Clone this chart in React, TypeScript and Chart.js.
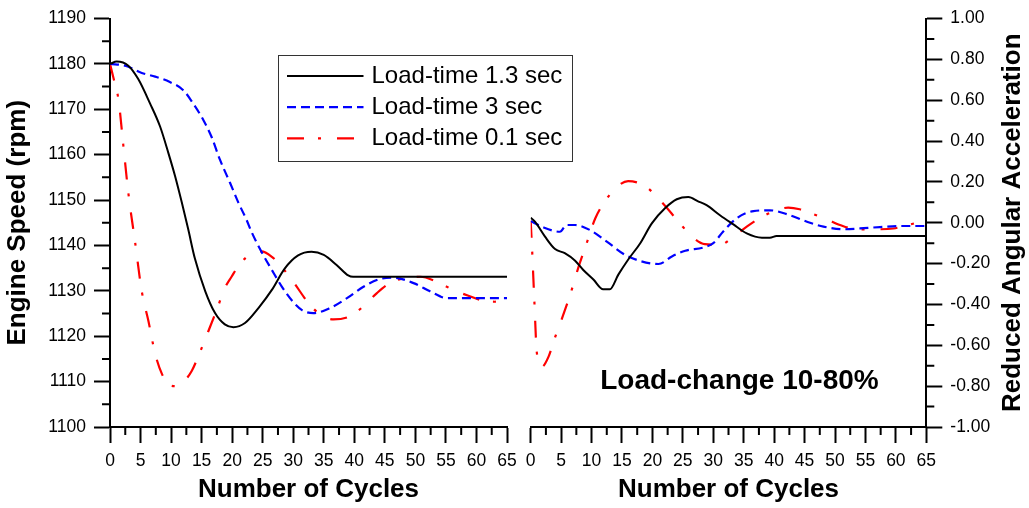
import React, { useEffect, useRef } from 'react';
import { Chart, registerables } from 'chart.js';

Chart.register(...registerables);

const FONT = '"Liberation Sans", Arial, Helvetica, sans-serif';

// ---------- Data ----------
const seriesNames = ['Load-time 1.3 sec', 'Load-time 3 sec', 'Load-time 0.1 sec'];

// Left panel: Engine speed (rpm) vs number of cycles
const speed13X = [0, 1.1, 3.0, 4.6, 6.55, 8.2, 9.55, 10.65, 11.75, 12.8, 13.9, 15.6, 17.2, 18.8, 20.2, 22.1, 24.3, 26.5, 28.6, 30.8, 33.0, 35.0, 37.1, 39.0, 39.8, 45, 52, 58, 65];
const speed13Y = [1180, 1180.5, 1179.6, 1176.7, 1171.3, 1166.2, 1160.4, 1155.3, 1149.5, 1143.6, 1137.1, 1129.9, 1125.1, 1122.6, 1122.0, 1122.9, 1126.2, 1130.2, 1134.9, 1137.8, 1138.6, 1137.9, 1135.7, 1133.4, 1133.1, 1133.1, 1133.1, 1133.1, 1133.1];

const speed3X = [0, 2.5, 5.2, 7.4, 9.8, 12.0, 13.6, 15.3, 16.6, 18.0, 19.65, 21.0, 22.4, 23.2, 24.8, 26.5, 28.1, 29.9, 31.5, 33.3, 36.0, 38.8, 41.5, 44.2, 46.4, 49.7, 52.4, 55.1, 60, 65];
const speed3Y = [1180, 1179.6, 1178.0, 1177.2, 1176.0, 1174.2, 1171.3, 1167.6, 1164.0, 1158.9, 1153.8, 1149.5, 1145.5, 1142.9, 1138.6, 1134.6, 1131.0, 1127.7, 1125.7, 1125.1, 1126.2, 1128.4, 1130.9, 1132.6, 1132.9, 1131.7, 1129.9, 1128.4, 1128.4, 1128.4];

const speed01X = [0, 0.55, 1.4, 2.2, 3.0, 4.1, 5.2, 6.3, 7.4, 8.5, 9.8, 10.9, 12.0, 13.4, 14.7, 16.1, 17.5, 18.8, 19.9, 21.3, 23.2, 24.8, 26.5, 28.1, 30.0, 32.5, 34.4, 36.6, 39.3, 41.5, 43.7, 45.8, 48.6, 50.8, 53.5, 56.2, 58.9, 61.1, 63, 65];
const speed01Y = [1180, 1177, 1172, 1161.8, 1151.6, 1140.8, 1129.9, 1123.3, 1116.1, 1111.7, 1109.2, 1109.0, 1109.9, 1112.4, 1116.4, 1121.1, 1125.9, 1130.6, 1133.1, 1136.0, 1138.2, 1138.7, 1137.5, 1135.3, 1132.0, 1127.3, 1124.8, 1123.7, 1124.4, 1126.6, 1129.5, 1131.7, 1132.9, 1133.1, 1132.0, 1130.2, 1128.8, 1127.8, 1127.6, 1127.8];

// Right panel: Reduced angular acceleration vs number of cycles
const accel13X = [0, 0.7, 2.35, 4.0, 5.6, 7.3, 8.6, 10.3, 11.9, 13.0, 14.4, 16.0, 18.0, 19.9, 22.1, 24.0, 25.9, 27.5, 28.9, 31.1, 33.3, 35.5, 38.0, 39.3, 40.4, 45, 50, 55, 60, 65];
const accel13Y = [0.024, 0.005, -0.068, -0.129, -0.149, -0.186, -0.23, -0.278, -0.326, -0.326, -0.254, -0.181, -0.10, -0.003, 0.072, 0.115, 0.126, 0.105, 0.086, 0.037, -0.008, -0.052, -0.073, -0.073, -0.065, -0.065, -0.065, -0.065, -0.065, -0.065];

const accel3X = [0, 1.8, 4.8, 5.9, 7.3, 9.7, 12.5, 15.5, 18.2, 21.0, 23.2, 25.4, 28.4, 30.0, 31.6, 33.8, 36.6, 39.3, 42.1, 45.4, 48.1, 51.4, 54.1, 57.4, 60.7, 65];
const accel3Y = [0.008, -0.019, -0.044, -0.011, -0.011, -0.035, -0.092, -0.157, -0.189, -0.202, -0.165, -0.137, -0.121, -0.10, -0.044, 0.021, 0.057, 0.061, 0.042, 0.005, -0.019, -0.032, -0.028, -0.021, -0.016, -0.016];

const accel01X = [0, 0.27, 0.6, 1.0, 1.8, 2.9, 4.0, 5.1, 6.5, 7.8, 9.2, 10.6, 12.2, 14.1, 16.0, 18.8, 21.5, 24.3, 26.5, 28.6, 31.1, 33.3, 35.5, 38.0, 40.4, 42.3, 44.2, 45.9, 48.6, 50.8, 53.6, 56.9, 59.6, 62.0, 65];
const accel01Y = [0.01, -0.157, -0.383, -0.634, -0.706, -0.658, -0.561, -0.472, -0.351, -0.222, -0.10, 0.021, 0.105, 0.174, 0.204, 0.179, 0.102, 0.005, -0.068, -0.105, -0.108, -0.068, -0.019, 0.029, 0.061, 0.074, 0.066, 0.048, 0.018, -0.011, -0.032, -0.032, -0.028, -0.011, 0.013];

// Ticks
const cycleTicks = [0, 5, 10, 15, 20, 25, 30, 35, 40, 45, 50, 55, 60, 65];
const cycleMinorTicks = [2.5, 7.5, 12.5, 17.5, 22.5, 27.5, 32.5, 37.5, 42.5, 47.5, 52.5, 57.5, 62.5];
const speedTicks = [1100, 1110, 1120, 1130, 1140, 1150, 1160, 1170, 1180, 1190];
const speedMinorTicks = [1105, 1115, 1125, 1135, 1145, 1155, 1165, 1175, 1185];
const accelTicks = [-1.0, -0.8, -0.6, -0.4, -0.2, 0, 0.2, 0.4, 0.6, 0.8, 1.0];
const accelTickLabels = ['-1.00', '-0.80', '-0.60', '-0.40', '-0.20', '0.00', '0.20', '0.40', '0.60', '0.80', '1.00'];
const accelMinorTicks = [-0.9, -0.7, -0.5, -0.3, -0.1, 0.1, 0.3, 0.5, 0.7, 0.9];

const annotationText = 'Load-change 10-80%';

// ---------- Styles ----------
const seriesStyles = [
  { color: '#000000', dash: [] as number[], width: 2 },
  { color: '#0000ff', dash: [9, 5], width: 2.2 },
  { color: '#ff0000', dash: [17, 14, 3, 16], width: 2.2 },
];

const pts = (xs: number[], ys: number[]) => xs.map((x, i) => ({ x, y: ys[i] }));

const makeDatasets = (pairs: [number[], number[]][]) =>
  pairs.map(([xs, ys], i) => ({
    label: seriesNames[i],
    data: pts(xs, ys),
    borderColor: seriesStyles[i].color,
    borderDash: seriesStyles[i].dash,
    borderWidth: seriesStyles[i].width,
    pointRadius: 0,
    fill: false,
    cubicInterpolationMode: 'monotone' as const,
    borderCapStyle: 'butt' as const,
  }));

const tickFont = { family: FONT, size: 17.5 };
const titleFont = { family: FONT, size: 26, weight: 'bold' as const };

const axisCommon = {
  grid: { drawOnChartArea: false, drawTicks: true, tickLength: 16, tickWidth: 2, tickColor: '#000' },
  border: { display: true, color: '#000', width: 2 },
};

const minorTicksPlugin = (cfg: { x: number[]; y: number[]; yPos: 'left' | 'right' }) => ({
  id: 'minorTicks',
  afterDraw(chart: any) {
    const { ctx, chartArea } = chart;
    const xs = chart.scales.x;
    const ys = chart.scales.y;
    ctx.save();
    ctx.strokeStyle = '#000';
    ctx.lineWidth = 2;
    ctx.beginPath();
    cfg.x.forEach((v) => {
      const px = xs.getPixelForValue(v);
      ctx.moveTo(px, chartArea.bottom);
      ctx.lineTo(px, chartArea.bottom + 8);
    });
    cfg.y.forEach((v) => {
      const py = ys.getPixelForValue(v);
      if (cfg.yPos === 'left') {
        ctx.moveTo(chartArea.left, py);
        ctx.lineTo(chartArea.left - 8, py);
      } else {
        ctx.moveTo(chartArea.right, py);
        ctx.lineTo(chartArea.right + 8, py);
      }
    });
    ctx.stroke();
    ctx.restore();
  },
});

const legendPlugin = {
  id: 'boxLegend',
  afterDraw(chart: any) {
    const { ctx, chartArea } = chart;
    const bx = chartArea.left + 168.5;
    const by = 55.5;
    const bw = 294;
    const bh = 106;
    ctx.save();
    ctx.fillStyle = '#ffffff';
    ctx.fillRect(bx, by, bw, bh);
    ctx.strokeStyle = '#333333';
    ctx.lineWidth = 1;
    ctx.strokeRect(bx, by, bw, bh);
    chart.data.datasets.forEach((ds: any, i: number) => {
      const y = by + 20.5 + i * 31.2;
      ctx.beginPath();
      ctx.strokeStyle = ds.borderColor;
      ctx.lineWidth = ds.borderWidth;
      ctx.setLineDash(ds.borderDash || []);
      ctx.moveTo(bx + 8.5, y);
      ctx.lineTo(bx + 85, y);
      ctx.stroke();
      ctx.setLineDash([]);
      ctx.fillStyle = '#000';
      ctx.font = `24px ${FONT}`;
      ctx.textAlign = 'left';
      ctx.textBaseline = 'middle';
      ctx.fillText(ds.label, bx + 93, y);
    });
    ctx.restore();
  },
};

const rightExtrasPlugin = {
  id: 'rightExtras',
  afterDraw(chart: any) {
    const { ctx, chartArea } = chart;
    const xs = chart.scales.x;
    const ys = chart.scales.y;
    ctx.save();
    // right axis title, reading bottom-to-top
    ctx.translate(chartArea.right + 86.7, (chartArea.top + chartArea.bottom) / 2);
    ctx.rotate(-Math.PI / 2);
    ctx.fillStyle = '#000';
    ctx.font = `bold 26px ${FONT}`;
    ctx.textAlign = 'center';
    ctx.textBaseline = 'middle';
    ctx.fillText('Reduced Angular Acceleration', 0, 0);
    ctx.restore();
    // annotation
    ctx.save();
    ctx.fillStyle = '#000';
    ctx.font = `bold 28px ${FONT}`;
    ctx.textAlign = 'center';
    ctx.textBaseline = 'middle';
    ctx.fillText(annotationText, xs.getPixelForValue(34.3), ys.getPixelForValue(-0.775));
    ctx.restore();
  },
};

const xScale = (showTitle: boolean) => ({
  type: 'linear' as const,
  min: 0,
  max: 65,
  afterBuildTicks: (s: any) => {
    s.ticks = cycleTicks.map((v) => ({ value: v }));
  },
  afterFit: (s: any) => {
    s.height = 81;
  },
  ticks: { font: tickFont, color: '#000', padding: 8, maxRotation: 0, autoSkip: false },
  ...axisCommon,
  title: {
    display: showTitle,
    text: 'Number of Cycles',
    font: titleFont,
    color: '#000',
    padding: { top: 0, bottom: 3 },
  },
});

export default function App() {
  const leftRef = useRef<HTMLCanvasElement>(null);
  const rightRef = useRef<HTMLCanvasElement>(null);

  useEffect(() => {
    const left = new Chart(leftRef.current as HTMLCanvasElement, {
      type: 'line',
      data: {
        datasets: makeDatasets([
          [speed13X, speed13Y],
          [speed3X, speed3Y],
          [speed01X, speed01Y],
        ]) as any,
      },
      options: {
        animation: false,
        responsive: false,
        maintainAspectRatio: false,
        devicePixelRatio: 1,
        layout: { padding: { left: 0, right: 93, top: 14, bottom: 0 } },
        plugins: { legend: { display: false }, tooltip: { enabled: false } },
        scales: {
          x: xScale(true) as any,
          y: {
            type: 'linear',
            position: 'left',
            min: 1100,
            max: 1190,
            afterBuildTicks: (s: any) => {
              s.ticks = speedTicks.map((v) => ({ value: v }));
            },
            afterFit: (s: any) => {
              s.width = 110;
            },
            ticks: { font: tickFont, color: '#000', padding: 8, autoSkip: false, callback: (v: any) => String(v) },
            ...axisCommon,
            title: {
              display: true,
              text: 'Engine Speed (rpm)',
              font: titleFont,
              color: '#000',
              padding: { top: 2.5, bottom: 0 },
            },
          } as any,
        },
      },
      plugins: [minorTicksPlugin({ x: cycleMinorTicks, y: speedMinorTicks, yPos: 'left' }), legendPlugin],
    });

    const right = new Chart(rightRef.current as HTMLCanvasElement, {
      type: 'line',
      data: {
        datasets: makeDatasets([
          [accel13X, accel13Y],
          [accel3X, accel3Y],
          [accel01X, accel01Y],
        ]) as any,
      },
      options: {
        animation: false,
        responsive: false,
        maintainAspectRatio: false,
        devicePixelRatio: 1,
        layout: { padding: { left: 30.7, right: 0, top: 14, bottom: 0 } },
        plugins: { legend: { display: false }, tooltip: { enabled: false } },
        scales: {
          x: xScale(true) as any,
          y: {
            type: 'linear',
            position: 'right',
            min: -1,
            max: 1,
            afterBuildTicks: (s: any) => {
              s.ticks = accelTicks.map((v) => ({ value: v }));
            },
            afterFit: (s: any) => {
              s.width = 102.7;
            },
            ticks: {
              font: tickFont,
              color: '#000',
              padding: 8,
              autoSkip: false,
              callback: (_v: any, i: number) => accelTickLabels[i],
            },
            ...axisCommon,
            title: { display: false },
          } as any,
        },
      },
      plugins: [minorTicksPlugin({ x: cycleMinorTicks, y: accelMinorTicks, yPos: 'right' }), rightExtrasPlugin],
    });

    return () => {
      left.destroy();
      right.destroy();
    };
  }, []);

  return (
    <div style={{ position: 'fixed', left: 0, top: 0, width: 1029, height: 508, background: '#fff', overflow: 'hidden' }}>
      <canvas
        ref={rightRef}
        width={529}
        height={508}
        style={{ position: 'absolute', left: 500, top: 0, width: 529, height: 508, zIndex: 1 }}
      />
      <canvas
        ref={leftRef}
        width={600}
        height={508}
        style={{ position: 'absolute', left: 0, top: 0, width: 600, height: 508, zIndex: 2 }}
      />
    </div>
  );
}
